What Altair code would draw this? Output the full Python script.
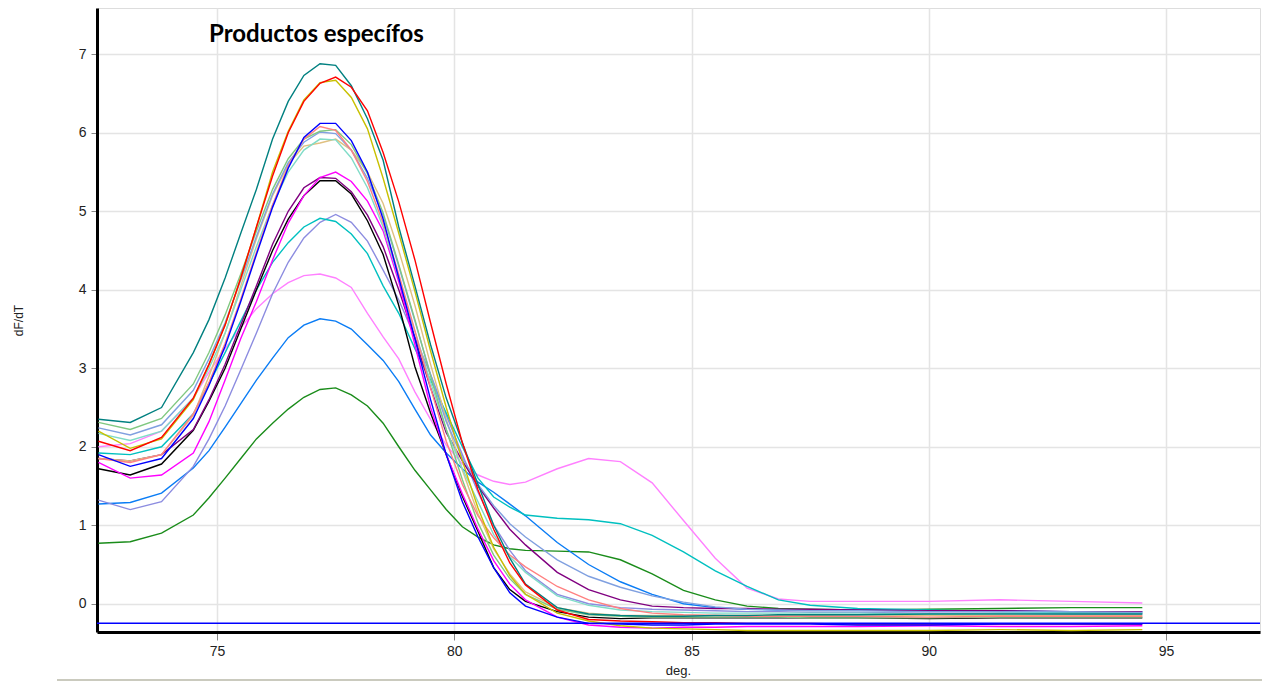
import altair as alt
import pandas as pd

# temperature grid (deg.)
T = [72.5, 73.17, 73.83, 74.5, 74.83, 75.17, 75.5, 75.83, 76.17, 76.5, 76.83, 77.17, 77.5,
     77.83, 78.17, 78.5, 78.83, 79.17, 79.5, 79.83, 80.17, 80.5, 80.83, 81.17, 81.5, 82.17,
     82.83, 83.5, 84.17, 84.83, 85.5, 86.17, 86.83, 87.5, 88.5, 90.0, 91.5, 93.0, 94.5]

green = [0.77, 0.79, 0.9, 1.13, 1.35, 1.6, 1.85, 2.1, 2.3, 2.48, 2.63, 2.73, 2.75, 2.66, 2.52, 2.3,
         2.0, 1.7, 1.45, 1.2, 0.98, 0.85, 0.75, 0.7, 0.68, 0.67, 0.66, 0.56, 0.38, 0.17, 0.05,
         -0.03, -0.06, -0.07, -0.08, -0.07, -0.06, -0.05, -0.05]
dodger = [1.27, 1.29, 1.41, 1.73, 1.95, 2.25, 2.55, 2.85, 3.13, 3.39, 3.55, 3.63, 3.6, 3.5, 3.3,
          3.1, 2.83, 2.48, 2.15, 1.92, 1.72, 1.55, 1.42, 1.27, 1.12, 0.78, 0.5, 0.28, 0.12, 0.0,
          -0.05, -0.07, -0.08, -0.08, -0.08, -0.09, -0.09, -0.1, -0.1]
pink = [2.0, 2.04, 2.2, 2.62, 2.95, 3.25, 3.52, 3.76, 3.95, 4.09, 4.18, 4.2, 4.15, 4.03, 3.7, 3.4,
        3.12, 2.7, 2.35, 2.02, 1.78, 1.64, 1.56, 1.52, 1.55, 1.72, 1.85, 1.81, 1.54, 1.06, 0.58,
        0.2, 0.06, 0.03, 0.03, 0.03, 0.05, 0.03, 0.01]
medpurple = [1.32, 1.2, 1.3, 1.75, 2.1, 2.52, 2.98, 3.45, 3.95, 4.35, 4.66, 4.86, 4.96, 4.86, 4.62,
             4.25, 3.87, 3.4, 2.92, 2.4, 1.9, 1.42, 1.0, 0.68, 0.42, 0.12, 0.0, -0.05, -0.07,
             -0.08, -0.09, -0.1, -0.1, -0.11, -0.11, -0.12, -0.12, -0.13, -0.13]
cyan = [1.92, 1.9, 2.0, 2.42, 2.8, 3.2, 3.6, 4.0, 4.35, 4.6, 4.8, 4.91, 4.87, 4.71, 4.46, 4.05, 3.7,
        3.25, 2.85, 2.43, 2.0, 1.6, 1.36, 1.23, 1.13, 1.09, 1.07, 1.02, 0.87, 0.66, 0.42, 0.22,
        0.05, -0.02, -0.06, -0.08, -0.1, -0.11, -0.12]
black = [1.72, 1.64, 1.78, 2.21, 2.58, 3.0, 3.5, 4.0, 4.5, 4.9, 5.2, 5.39, 5.39, 5.22, 4.88, 4.45,
         3.8, 3.02, 2.43, 1.9, 1.37, 0.92, 0.46, 0.18, 0.03, -0.1, -0.17, -0.19, -0.18, -0.18,
         -0.18, -0.18, -0.18, -0.18, -0.18, -0.19, -0.18, -0.18, -0.18]
purple = [1.85, 1.82, 1.9, 2.22, 2.6, 3.05, 3.55, 4.05, 4.58, 5.0, 5.3, 5.43, 5.42, 5.25, 4.95,
          4.55, 4.0, 3.38, 2.75, 2.18, 1.82, 1.5, 1.22, 0.95, 0.75, 0.4, 0.18, 0.05, -0.03, -0.05,
          -0.06, -0.06, -0.07, -0.07, -0.08, -0.09, -0.09, -0.1, -0.1]
magenta = [1.8, 1.6, 1.64, 1.92, 2.32, 2.85, 3.38, 3.85, 4.38, 4.85, 5.2, 5.43, 5.5, 5.38, 5.13,
           4.75, 4.1, 3.3, 2.5, 1.9, 1.4, 0.95, 0.55, 0.25, 0.05, -0.17, -0.27, -0.3, -0.31, -0.3,
           -0.3, -0.29, -0.29, -0.29, -0.29, -0.28, -0.29, -0.29, -0.28]
tan = [1.85, 1.82, 1.9, 2.4, 2.9, 3.45, 4.05, 4.65, 5.2, 5.6, 5.83, 5.87, 5.92, 5.78, 5.5, 5.1,
       4.5, 3.8, 3.05, 2.35, 1.7, 1.15, 0.7, 0.38, 0.15, -0.05, -0.12, -0.15, -0.15, -0.15,
       -0.15, -0.15, -0.15, -0.15, -0.16, -0.15, -0.15, -0.15, -0.15]
aqua = [2.17, 2.08, 2.2, 2.62, 3.0, 3.45, 4.0, 4.55, 5.08, 5.5, 5.78, 5.92, 5.91, 5.68, 5.3, 4.8,
        4.15, 3.47, 2.82, 2.22, 1.72, 1.3, 0.88, 0.6, 0.4, 0.1, -0.02, -0.08, -0.1, -0.11, -0.12,
        -0.12, -0.12, -0.12, -0.12, -0.13, -0.12, -0.12, -0.12]
lsblue = [2.24, 2.15, 2.28, 2.72, 3.12, 3.58, 4.12, 4.68, 5.22, 5.62, 5.88, 6.01, 5.99, 5.78, 5.42,
          4.95, 4.3, 3.6, 2.92, 2.32, 1.86, 1.52, 1.25, 1.02, 0.85, 0.56, 0.35, 0.21, 0.1, 0.02,
          -0.04, -0.07, -0.08, -0.09, -0.09, -0.1, -0.1, -0.1, -0.11]
lgreen = [2.31, 2.22, 2.36, 2.8, 3.2, 3.68, 4.2, 4.75, 5.28, 5.67, 5.92, 6.02, 6.04, 5.85, 5.48,
          4.98, 4.32, 3.62, 2.9, 2.22, 1.58, 1.03, 0.62, 0.32, 0.12, -0.07, -0.14, -0.16, -0.17,
          -0.17, -0.17, -0.17, -0.17, -0.18, -0.18, -0.18, -0.17, -0.17, -0.17]
salmon = [1.85, 1.8, 1.9, 2.42, 2.82, 3.32, 3.88, 4.48, 5.08, 5.58, 5.92, 6.08, 6.03, 5.78, 5.38,
          4.85, 4.2, 3.48, 2.75, 2.07, 1.52, 1.12, 0.84, 0.62, 0.47, 0.22, 0.05, -0.06, -0.12,
          -0.14, -0.15, -0.16, -0.16, -0.16, -0.16, -0.17, -0.16, -0.16, -0.16]
blue = [1.9, 1.75, 1.85, 2.36, 2.78, 3.28, 3.85, 4.45, 5.05, 5.55, 5.94, 6.12, 6.12, 5.9, 5.5, 4.9,
        4.15, 3.38, 2.6, 1.9, 1.3, 0.85, 0.46, 0.14, -0.03, -0.17, -0.25, -0.26, -0.27, -0.27,
        -0.26, -0.26, -0.26, -0.26, -0.27, -0.27, -0.26, -0.26, -0.26]
olive = [2.2, 1.98, 2.1, 2.6, 3.05, 3.55, 4.15, 4.8, 5.5, 6.02, 6.42, 6.64, 6.67, 6.45, 6.05, 5.42,
         4.72, 3.98, 3.22, 2.5, 1.82, 1.22, 0.72, 0.36, 0.12, -0.12, -0.22, -0.28, -0.31, -0.32,
         -0.33, -0.34, -0.34, -0.34, -0.34, -0.34, -0.33, -0.34, -0.33]
red = [2.07, 1.95, 2.12, 2.62, 3.05, 3.55, 4.15, 4.8, 5.45, 6.0, 6.4, 6.63, 6.71, 6.58, 6.28, 5.75,
       5.12, 4.38, 3.58, 2.8, 2.05, 1.45, 0.95, 0.52, 0.24, -0.08, -0.2, -0.22, -0.23, -0.24,
       -0.24, -0.25, -0.25, -0.25, -0.26, -0.26, -0.26, -0.26, -0.26]
teal = [2.35, 2.31, 2.5, 3.2, 3.62, 4.15, 4.72, 5.28, 5.92, 6.4, 6.73, 6.88, 6.86, 6.6, 6.18, 5.65,
        4.8, 4.05, 3.3, 2.62, 2.05, 1.52, 1.0, 0.58, 0.25, -0.05, -0.13, -0.15, -0.16, -0.16,
        -0.15, -0.15, -0.14, -0.14, -0.14, -0.13, -0.13, -0.13, -0.13]

SERIES = [
    ("green", green, "#1a8c1a"), ("dodger", dodger, "#0a7cf5"), ("pink", pink, "#ff80ff"),
    ("medpurple", medpurple, "#8c8ce0"), ("cyan", cyan, "#00c0c0"), ("black", black, "#000000"),
    ("purple", purple, "#800080"), ("magenta", magenta, "#ff00ff"), ("tan", tan, "#e0c080"),
    ("aqua", aqua, "#80dcc8"), ("lsblue", lsblue, "#80a0e0"), ("lgreen", lgreen, "#80c880"),
    ("salmon", salmon, "#ff8080"), ("olive", olive, "#c8c000"), ("teal", teal, "#008080"),
    ("red", red, "#ff0000"), ("blue", blue, "#0000ff"),
]
THRESHOLD = [-0.25]
X_TICKS = [75, 80, 85, 90, 95]
Y_TICKS = [0, 1, 2, 3, 4, 5, 6, 7]
TITLE = "Productos específos"

rows = []
for k, (name, vals, _c) in enumerate(SERIES):
    for t, v in zip(T, vals):
        rows.append({"deg": t, "dfdt": v, "s": name, "k": k})
df = pd.DataFrame(rows)

names = [s[0] for s in SERIES]
colors = [s[2] for s in SERIES]

W, H = 1163, 624
xs = alt.Scale(domain=[72.47, 96.98], nice=False, zero=False)
ys = alt.Scale(domain=[-0.36, 7.59], nice=False, zero=False)

lines = alt.Chart(df).mark_line(strokeWidth=1.4, clip=True).encode(
    x=alt.X("deg:Q", scale=xs, title="deg.",
            axis=alt.Axis(values=X_TICKS, format="d", grid=True, gridColor="#e4e4e4", gridWidth=1.5,
                          domainColor="#000", domainWidth=3, tickColor="#888", tickSize=8,
                          tickWidth=1, labelFont="Liberation Sans", labelFontSize=14,
                          labelColor="#222", labelPadding=4, titleFont="Liberation Sans",
                          titleFontSize=13, titleFontWeight="normal", titleColor="#222",
                          titleX=581, titleY=38, titleBaseline="middle")),
    y=alt.Y("dfdt:Q", scale=ys, title="dF/dT",
            axis=alt.Axis(values=Y_TICKS, format="d", grid=True, gridColor="#e4e4e4", gridWidth=1.5,
                          domainColor="#000", domainWidth=3, tickColor="#888", tickSize=6,
                          tickWidth=1, labelFont="Liberation Sans", labelFontSize=14,
                          labelColor="#222", labelPadding=5, titleFont="Liberation Sans",
                          titleFontSize=12, titleFontWeight="normal", titleColor="#222",
                          titleX=-79, titleY=312, titleAngle=-90, titleAlign="center",
                          titleBaseline="middle")),
    color=alt.Color("s:N", scale=alt.Scale(domain=names, range=colors), legend=None),
    order=alt.Order("deg:Q"),
    detail="k:O",
)

thr = alt.Chart(pd.DataFrame({"y": THRESHOLD})).mark_rule(color="#0000ff", strokeWidth=1.5).encode(
    y=alt.Y("y:Q", scale=ys)
)

title = alt.Chart(pd.DataFrame({"t": [TITLE]})).mark_text(
    font="Lato", fontSize=24, fontWeight="bold", align="left", baseline="middle", color="#000"
).encode(x=alt.value(112), y=alt.value(27), text="t:N")

bottom_line = alt.Chart(pd.DataFrame({"a": [0]})).mark_rule(color="#b8b8a8", strokeWidth=1.5).encode(
    x=alt.value(-40), x2=alt.value(1165), y=alt.value(672)
)

chart = alt.layer(lines, thr, title, bottom_line).properties(
    width=W, height=H,
    autosize=alt.AutoSizeParams(type="none"),
    padding={"left": 97, "top": 8, "right": 2, "bottom": 50},
).configure_view(stroke="#000", strokeWidth=2).configure(background="white")

chart.save("out.html", embed_options={"renderer": "svg", "actions": False})
